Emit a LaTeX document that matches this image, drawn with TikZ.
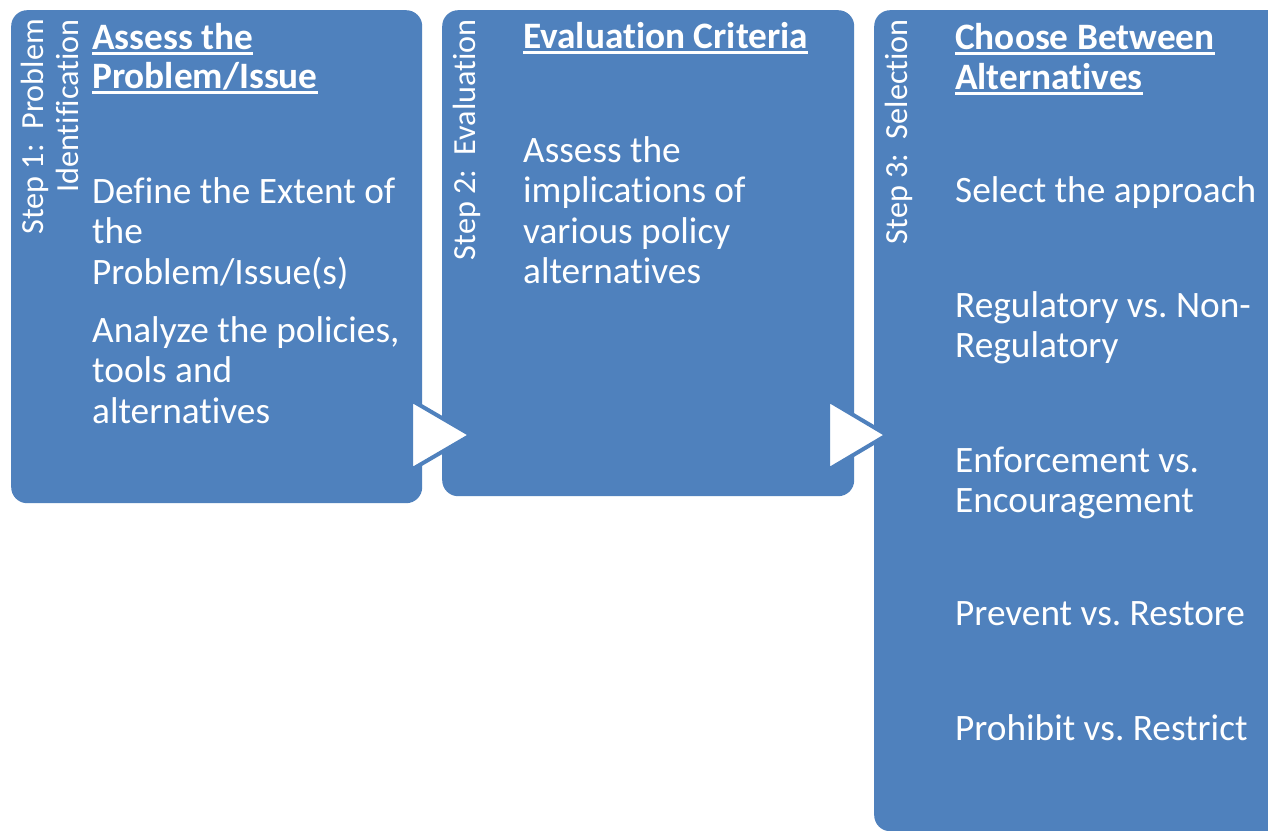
\documentclass[tikz,border=0pt]{standalone}
\usepackage{fontspec}
\setmainfont{Carlito}[Ligatures=NoCommon]
\usetikzlibrary{calc}
\definecolor{boxblue}{HTML}{4F81BD}
\frenchspacing
\begin{document}
\begin{tikzpicture}[x=1pt,y=-1pt,
  stepbox/.style={fill=boxblue, draw=none, rounded corners=16pt, inner sep=0pt, anchor=north west},
  bodytxt/.style={text=white, inner sep=0pt, anchor=base west, font=\fontsize{37.3}{41}\selectfont},
  titletxt/.style={text=white, inner sep=0pt, anchor=base west, font=\fontsize{37.3}{41}\selectfont\bfseries},
  sidetxt/.style={text=white, inner sep=0pt, rotate=90, anchor=base east, font=\fontsize{32.2}{35}\selectfont},
  uline/.style={white, line width=2.7pt},
  flowtri/.style={fill=white, draw=boxblue, line width=4pt, line join=miter}]
\useasboundingbox (0,0) rectangle (1268,830);
\clip (0,0) rectangle (1268,830);
\fill[white] (0,0) rectangle (1268,830);

% boxes
\node[stepbox, minimum width=411pt, minimum height=493pt] (b1) at (11,10) {};
\node[stepbox, minimum width=412pt, minimum height=486pt] (b2) at (442,10) {};
\node[stepbox, minimum width=416pt, minimum height=821pt] (b3) at (874,10) {};

% flow triangles
\draw[flowtri] (411,400) -- (471,435) -- (411,470) -- cycle;
\draw[flowtri] (828,400) -- (887,435) -- (828,470) -- cycle;

% side labels
\node[sidetxt] (s1a) at (43,19) {Step 1:\ \ Problem};
\node[sidetxt] (s1b) at (78,19) {Identification};
\node[sidetxt] (s2) at (475,19) {Step 2:\ \ Evaluation};
\node[sidetxt] (s3) at (907,19) {Step 3:\ \ Selection};

% box 1
\node[titletxt] (t1a) at (92,49) {Assess the};
\node[titletxt] (t1b) at (92,88) {Problem/Issue};
\draw[uline] ($(t1a.base west)+(0,4.5)$) -- ($(t1a.base east)+(0,4.5)$);
\draw[uline] ($(t1b.base west)+(0,4.5)$) -- ($(t1b.base east)+(0,4.5)$);
\node[bodytxt] (p1a) at (92,203) {Define the Extent of};
\node[bodytxt] (p1b) at (92,243.5) {the};
\node[bodytxt] (p1c) at (92,284) {Problem/Issue(s)};
\node[bodytxt] (p1d) at (92,342) {Analyze the policies,};
\node[bodytxt] (p1e) at (92,382.5) {tools and};
\node[bodytxt] (p1f) at (92,423) {alternatives};

% box 2
\node[titletxt] (t2) at (523,48) {Evaluation Criteria};
\draw[uline] ($(t2.base west)+(0,4.5)$) -- ($(t2.base east)+(0,4.5)$);
\node[bodytxt] (p2a) at (523,162) {Assess the};
\node[bodytxt] (p2b) at (523,202.5) {implications of};
\node[bodytxt] (p2c) at (523,243) {various policy};
\node[bodytxt] (p2d) at (523,283.5) {alternatives};

% box 3
\node[titletxt] (t3a) at (955,49) {Choose Between};
\node[titletxt] (t3b) at (955,89) {Alternatives};
\draw[uline] ($(t3a.base west)+(0,4.5)$) -- ($(t3a.base east)+(0,4.5)$);
\draw[uline] ($(t3b.base west)+(0,4.5)$) -- ($(t3b.base east)+(0,4.5)$);
\node[bodytxt] (p3a) at (955,202) {Select the approach};
\node[bodytxt] (p3b) at (955,317) {Regulatory vs. Non-};
\node[bodytxt] (p3c) at (955,357) {Regulatory};
\node[bodytxt] (p3d) at (955,472) {Enforcement vs.};
\node[bodytxt] (p3e) at (955,512) {Encouragement};
\node[bodytxt] (p3f) at (955,625) {Prevent vs. Restore};
\node[bodytxt] (p3g) at (955,740) {Prohibit vs. Restrict};
\end{tikzpicture}
\end{document}
